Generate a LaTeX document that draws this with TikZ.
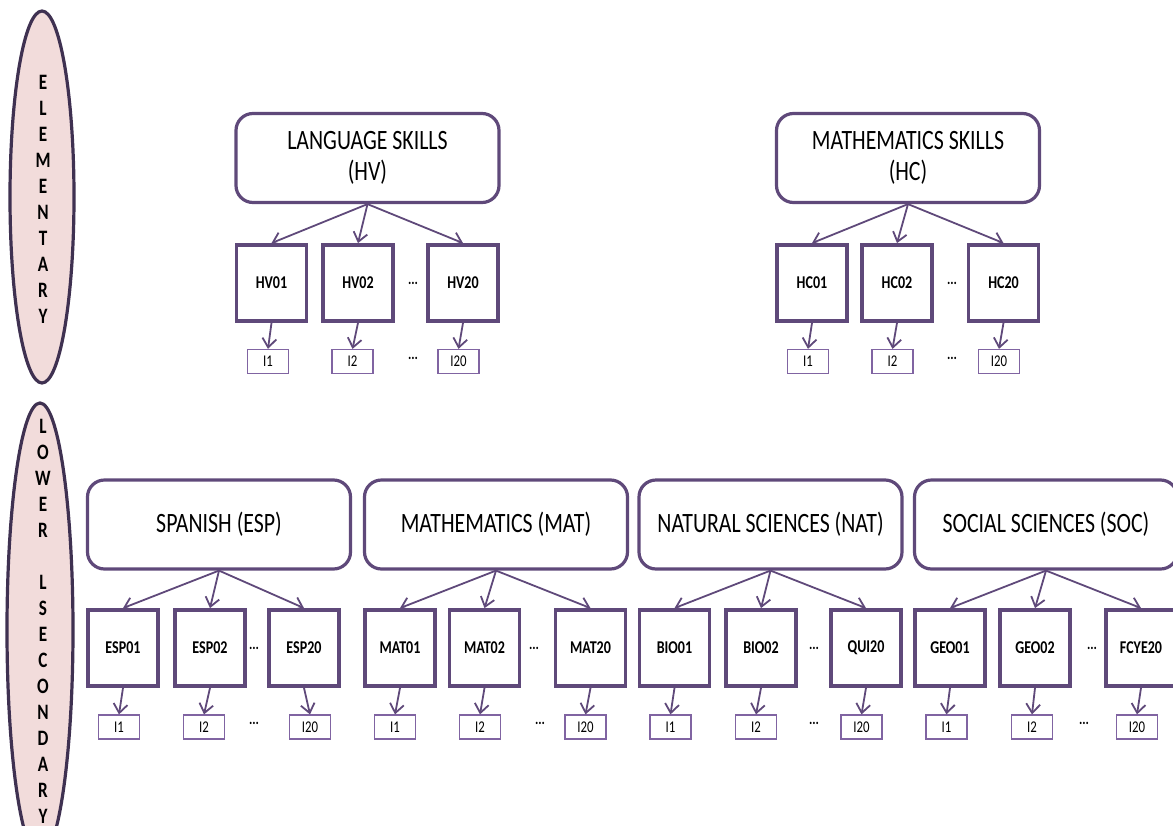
\documentclass[tikz,border=0pt]{standalone}
\usepackage{fontspec}
\setmainfont{Carlito}[FakeStretch=0.78]
\usetikzlibrary{shapes.geometric,arrows.meta}

\definecolor{skillline}{HTML}{5F497A}
\definecolor{itemline}{HTML}{8064A2}
\definecolor{levelline}{HTML}{3F3151}
\definecolor{levelfill}{HTML}{F2DCDB}

\tikzset{
  area/.style={draw=skillline, line width=1.6pt, rounded corners=8.5pt, minimum width=131.5pt, minimum height=44.5pt,
    inner sep=0pt, align=center, font=\fontsize{14}{15.5}\selectfont},
  subj/.style={draw=skillline, line width=1.9pt, minimum width=35pt, minimum height=38pt, inner sep=0pt,
    font=\bfseries\fontsize{9}{10}\selectfont},
  item/.style={draw=itemline, line width=0.6pt, minimum width=20.5pt, minimum height=12pt, inner sep=0pt,
    font=\fontsize{8.2}{9}\selectfont},
  gap/.style={inner sep=0pt, font=\bfseries\fontsize{8}{9}\selectfont},
  level/.style={ellipse, draw=levelline, line width=1.6pt, fill=levelfill, inner sep=0pt},
  leveltext/.style={align=center, inner sep=0pt, font=\bfseries\fontsize{11}{13}\selectfont},
  link/.style={draw=skillline, line width=0.9pt, -{Straight Barb[length=4.5pt,width=7pt]}}
}

\begin{document}
\begin{tikzpicture}[x=0.5pt,y=-0.5pt]
\useasboundingbox (0,0) rectangle (1173,825);

% school levels
\node[level, minimum width=32pt, minimum height=186pt] (elem) at (42,197) {};
\node[leveltext] (elemtext) at (43,199.5) {E\\L\\E\\M\\E\\N\\T\\A\\R\\Y};
\node[level, minimum width=33pt, minimum height=227pt] (lsec) at (40,630) {};
\node[leveltext] (lsectext) at (43,621) {L\\O\\W\\E\\R\\[13pt]L\\S\\E\\C\\O\\N\\D\\A\\R\\Y};

% elementary: skill areas, items and indicators
\foreach \g/\lab/\px/\ax/\bx/\cx/\la/\lb/\lc/\ia/\ib/\ic/\dx in {
  hv/{LANGUAGE SKILLS\\(HV)}/367.5/271.5/358/463/HV01/HV02/HV20/268/352.5/458.5/413,
  hc/{MATHEMATICS SKILLS\\(HC)}/908/812/897/1003.5/HC01/HC02/HC20/808/892.5/999/952}
{
  \node[area] (\g) at (\px,158) {\lab};
  \node[subj] (\g-1) at (\ax,283) {\la};
  \node[subj] (\g-2) at (\bx,283) {\lb};
  \node[subj] (\g-3) at (\cx,283) {\lc};
  \node[item] (\g-i1) at (\ia,361.5) {I1};
  \node[item] (\g-i2) at (\ib,361.5) {I2};
  \node[item] (\g-i3) at (\ic,361.5) {I20};
  \node[gap] (\g-d) at (\dx,283) {...};
  \node[gap] (\g-di) at (\dx,358) {...};
  \foreach \k in {1,2,3} {
    \draw[link] (\g.south) -- (\g-\k.north);
    \draw[link] (\g-\k.south) -- (\g-i\k.north);
  }
}

% lower secondary: subjects, items and indicators
\foreach \g/\lab/\px/\ax/\bx/\cx/\la/\lb/\lc/\ia/\ib/\ic/\dx/\idx in {
  esp/{SPANISH (ESP)}/219/123/210/304/ESP01/ESP02/ESP20/119/204/310/254/254,
  mat/{MATHEMATICS (MAT)}/496/400/484.5/590.5/MAT01/MAT02/MAT20/395/480/585.5/534/540,
  nat/{NATURAL SCIENCES (NAT)}/770.5/674.5/761/866/BIO01/BIO02/QUI20/670.5/756/861.5/814/814,
  soc/{SOCIAL SCIENCES (SOC)}/1046/950/1035/1141/GEO01/GEO02/FCYE20/946.5/1032/1137/1092/1084}
{
  \node[area] (\g) at (\px,524.5) {\lab};
  \node[subj] (\g-1) at (\ax,648) {\la};
  \node[subj] (\g-2) at (\bx,648) {\lb};
  \node[subj] (\g-3) at (\cx,648) {\lc};
  \node[item] (\g-i1) at (\ia,727) {I1};
  \node[item] (\g-i2) at (\ib,727) {I2};
  \node[item] (\g-i3) at (\ic,727) {I20};
  \node[gap] (\g-d) at (\dx,648) {...};
  \node[gap] (\g-di) at (\idx,723) {...};
  \foreach \k in {1,2,3} {
    \draw[link] (\g.south) -- (\g-\k.north);
    \draw[link] (\g-\k.south) -- (\g-i\k.north);
  }
}
\end{tikzpicture}
\end{document}
